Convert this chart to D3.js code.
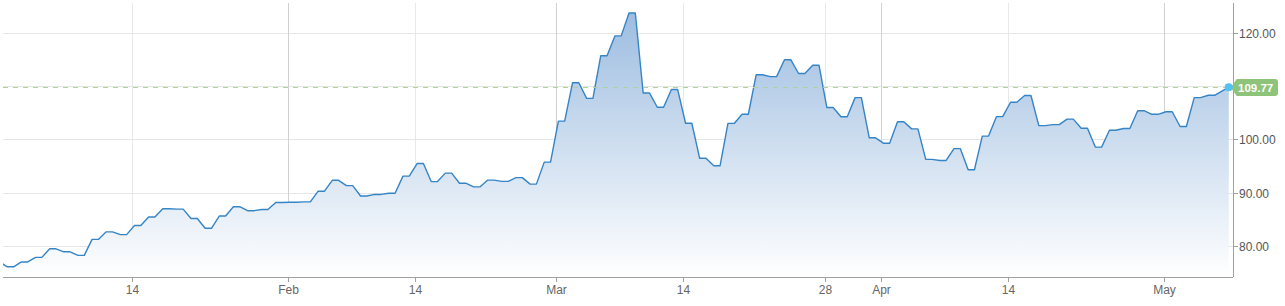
<!DOCTYPE html>
<html>
<head>
<meta charset="utf-8">
<script src="https://cdnjs.cloudflare.com/ajax/libs/d3/7.8.5/d3.min.js"></script>
<style>
  html, body { margin: 0; padding: 0; background: #fff; }
  svg { display: block; font-family: "Liberation Sans", Arial, sans-serif; }
</style>
</head>
<body>
<svg width="1285" height="306"></svg>
<script>
/* price series, one close per trading day */

var dates = [
    "2022-01-03", "2022-01-04", "2022-01-05", "2022-01-06", "2022-01-07",
    "2022-01-10", "2022-01-11", "2022-01-12", "2022-01-13", "2022-01-14",
    "2022-01-18", "2022-01-19", "2022-01-20", "2022-01-21",
    "2022-01-24", "2022-01-25", "2022-01-26", "2022-01-27", "2022-01-28",
    "2022-01-31", "2022-02-01", "2022-02-02", "2022-02-03", "2022-02-04",
    "2022-02-07", "2022-02-08", "2022-02-09", "2022-02-10", "2022-02-11",
    "2022-02-14", "2022-02-15", "2022-02-16", "2022-02-17", "2022-02-18",
    "2022-02-22", "2022-02-23", "2022-02-24", "2022-02-25",
    "2022-02-28", "2022-03-01", "2022-03-02", "2022-03-03", "2022-03-04",
    "2022-03-07", "2022-03-08", "2022-03-09", "2022-03-10", "2022-03-11",
    "2022-03-14", "2022-03-15", "2022-03-16", "2022-03-17", "2022-03-18",
    "2022-03-21", "2022-03-22", "2022-03-23", "2022-03-24", "2022-03-25",
    "2022-03-28", "2022-03-29", "2022-03-30", "2022-03-31", "2022-04-01",
    "2022-04-04", "2022-04-05", "2022-04-06", "2022-04-07", "2022-04-08",
    "2022-04-11", "2022-04-12", "2022-04-13", "2022-04-14",
    "2022-04-18", "2022-04-19", "2022-04-20", "2022-04-21", "2022-04-22",
    "2022-04-25", "2022-04-26", "2022-04-27", "2022-04-28", "2022-04-29",
    "2022-05-02", "2022-05-03", "2022-05-04", "2022-05-05", "2022-05-06"
];

var closes = [
    76.08, 76.99, 77.85, 79.46, 78.90,
    78.23, 81.22, 82.64, 82.12, 83.82,
    85.43, 86.96, 86.90, 85.14,
    83.31, 85.60, 87.35, 86.61, 86.82,
    88.15, 88.20, 88.26, 90.27, 92.31,
    91.32, 89.36, 89.66, 89.88, 93.10,
    95.46, 92.07, 93.66, 91.76, 91.07,
    92.35, 92.10, 92.81, 91.59,
    95.72, 103.41, 110.60, 107.67, 115.68,
    119.40, 123.70, 108.70, 106.02, 109.33,
    103.01, 96.44, 95.04, 102.98, 104.70,
    112.12, 111.76, 114.93, 112.34, 113.90,
    105.96, 104.24, 107.82, 100.28, 99.27,
    103.28, 101.96, 96.23, 96.03, 98.26,
    94.29, 100.60, 104.25, 106.95,
    108.21, 102.56, 102.75, 103.79, 102.07,
    98.54, 101.70, 102.02, 105.36, 104.69,
    105.17, 102.41, 107.81, 108.26, 109.77
];

var prevClose = 77.0;   // value just left of the first visible day

var tickDates = ["2022-01-14", "2022-02-01", "2022-02-14", "2022-03-01", "2022-03-14",
                 "2022-03-28", "2022-04-01", "2022-04-14", "2022-05-01"];
var tickLabels = ["14", "Feb", "14", "Mar", "14", "28", "Apr", "14", "May"];

var yTicks = [80, 90, 100, 110, 120];

var svg = d3.select("svg"),
    plotL = 3, plotR = 1233, plotT = 3, plotB = 277;

var x = d3.scaleLinear().domain([-0.15, 86.9]).range([plotL, plotR]);
var y = d3.scaleLinear().domain([74.17, 125.57]).range([plotB, plotT]);

/* each day is drawn as a short flat run followed by a ramp to the next day */
var pts = [[-0.4, prevClose]];
closes.forEach(function (v, i) {
    if (i < closes.length - 1) pts.push([i + 0.156, v]);
    pts.push([i + 0.6, v]);
});

var last = closes[closes.length - 1],
    lastX = x(closes.length - 1 + 0.6),
    lastY = y(last);

var defs = svg.append("defs");

defs.append("clipPath").attr("id", "plot")
    .append("rect")
    .attr("x", plotL).attr("y", plotT)
    .attr("width", plotR - plotL).attr("height", plotB - plotT);

var grad = defs.append("linearGradient")
    .attr("id", "fill")
    .attr("gradientUnits", "userSpaceOnUse")
    .attr("x1", 0).attr("x2", 0)
    .attr("y1", y(d3.max(closes))).attr("y2", plotB);
grad.append("stop").attr("offset", 0).attr("stop-color", "#9dbde0");
grad.append("stop").attr("offset", 1).attr("stop-color", "#ffffff");

// horizontal grid
svg.append("g")
    .selectAll("line")
    .data(yTicks)
    .enter().append("line")
    .attr("x1", plotL).attr("x2", plotR)
    .attr("y1", function (d) { return Math.round(y(d)) + 0.5; })
    .attr("y2", function (d) { return Math.round(y(d)) + 0.5; })
    .attr("stroke", "#e6e6e6");

var tickPos = tickDates.map(function (d) { return d3.bisectLeft(dates, d); });

// vertical grid, month starts a bit darker
svg.append("g")
    .selectAll("line")
    .data(tickPos)
    .enter().append("line")
    .attr("x1", function (d) { return Math.round(x(d)) + 0.5; })
    .attr("x2", function (d) { return Math.round(x(d)) + 0.5; })
    .attr("y1", plotT).attr("y2", plotB)
    .attr("stroke", function (d, i) { return isNaN(+tickLabels[i]) ? "#d2d2d2" : "#e8e8e8"; });

var area = d3.area()
    .x(function (d) { return x(d[0]); })
    .y0(plotB)
    .y1(function (d) { return y(d[1]); });

var line = d3.line()
    .x(function (d) { return x(d[0]); })
    .y(function (d) { return y(d[1]); });

var plot = svg.append("g").attr("clip-path", "url(#plot)");

plot.append("path")
    .datum(pts)
    .attr("d", area)
    .attr("fill", "url(#fill)");

plot.append("path")
    .datum(pts)
    .attr("d", line)
    .attr("fill", "none")
    .attr("stroke", "#3584c6")
    .attr("stroke-width", 1.4)
    .attr("stroke-linejoin", "round");

// last price marker line
svg.append("line")
    .attr("x1", plotL).attr("x2", plotR)
    .attr("y1", Math.round(lastY) + 0.5).attr("y2", Math.round(lastY) + 0.5)
    .attr("stroke", "#acd39a")
    .attr("stroke-dasharray", "5,5");

// bottom axis
svg.append("line")
    .attr("x1", plotL).attr("x2", plotR)
    .attr("y1", plotB + 0.5).attr("y2", plotB + 0.5)
    .attr("stroke", "#a0a0a0");

var xt = svg.append("g")
    .selectAll("g")
    .data(tickPos)
    .enter().append("g")
    .attr("transform", function (d) { return "translate(" + (Math.round(x(d)) + 0.5) + ",0)"; });

xt.append("line")
    .attr("y1", plotB).attr("y2", plotB + 5)
    .attr("stroke", "#a0a0a0");

xt.append("text")
    .attr("y", 294)
    .attr("text-anchor", "middle")
    .attr("font-size", 12)
    .attr("fill", "#666")
    .text(function (d, i) { return tickLabels[i]; });

// right axis
svg.append("line")
    .attr("x1", plotR + 0.5).attr("x2", plotR + 0.5)
    .attr("y1", plotT).attr("y2", plotB)
    .attr("stroke", "#a0a0a0");

var yt = svg.append("g")
    .selectAll("g")
    .data(yTicks)
    .enter().append("g")
    .attr("transform", function (d) { return "translate(0," + (Math.round(y(d)) + 0.5) + ")"; });

yt.append("line")
    .attr("x1", plotR).attr("x2", plotR + 5)
    .attr("stroke", "#a0a0a0");

yt.append("text")
    .attr("x", 1239)
    .attr("dy", "0.35em")
    .attr("font-size", 12)
    .attr("fill", "#555")
    .text(function (d) { return d3.format(".2f")(d); });

// current price badge
var by = Math.round(lastY) + 0.5;
svg.append("path")
    .attr("d", "M" + (lastX + 2) + "," + by +
        " L" + (lastX + 8) + "," + (by - 8.5) +
        " H" + 1275 + " Q1278," + (by - 8.5) + " 1278," + (by - 5.5) +
        " V" + (by + 5.5) + " Q1278," + (by + 8.5) + " 1275," + (by + 8.5) +
        " H" + (lastX + 8) + " Z")
    .attr("fill", "#8dc47a");

svg.append("text")
    .attr("x", 1238)
    .attr("y", by)
    .attr("dy", "0.36em")
    .attr("font-size", 11.5)
    .attr("font-weight", "bold")
    .attr("fill", "#fff")
    .text(d3.format(".2f")(last));

svg.append("circle")
    .attr("cx", lastX).attr("cy", lastY)
    .attr("r", 4)
    .attr("fill", "#55c1f0");
</script>
</body>
</html>
